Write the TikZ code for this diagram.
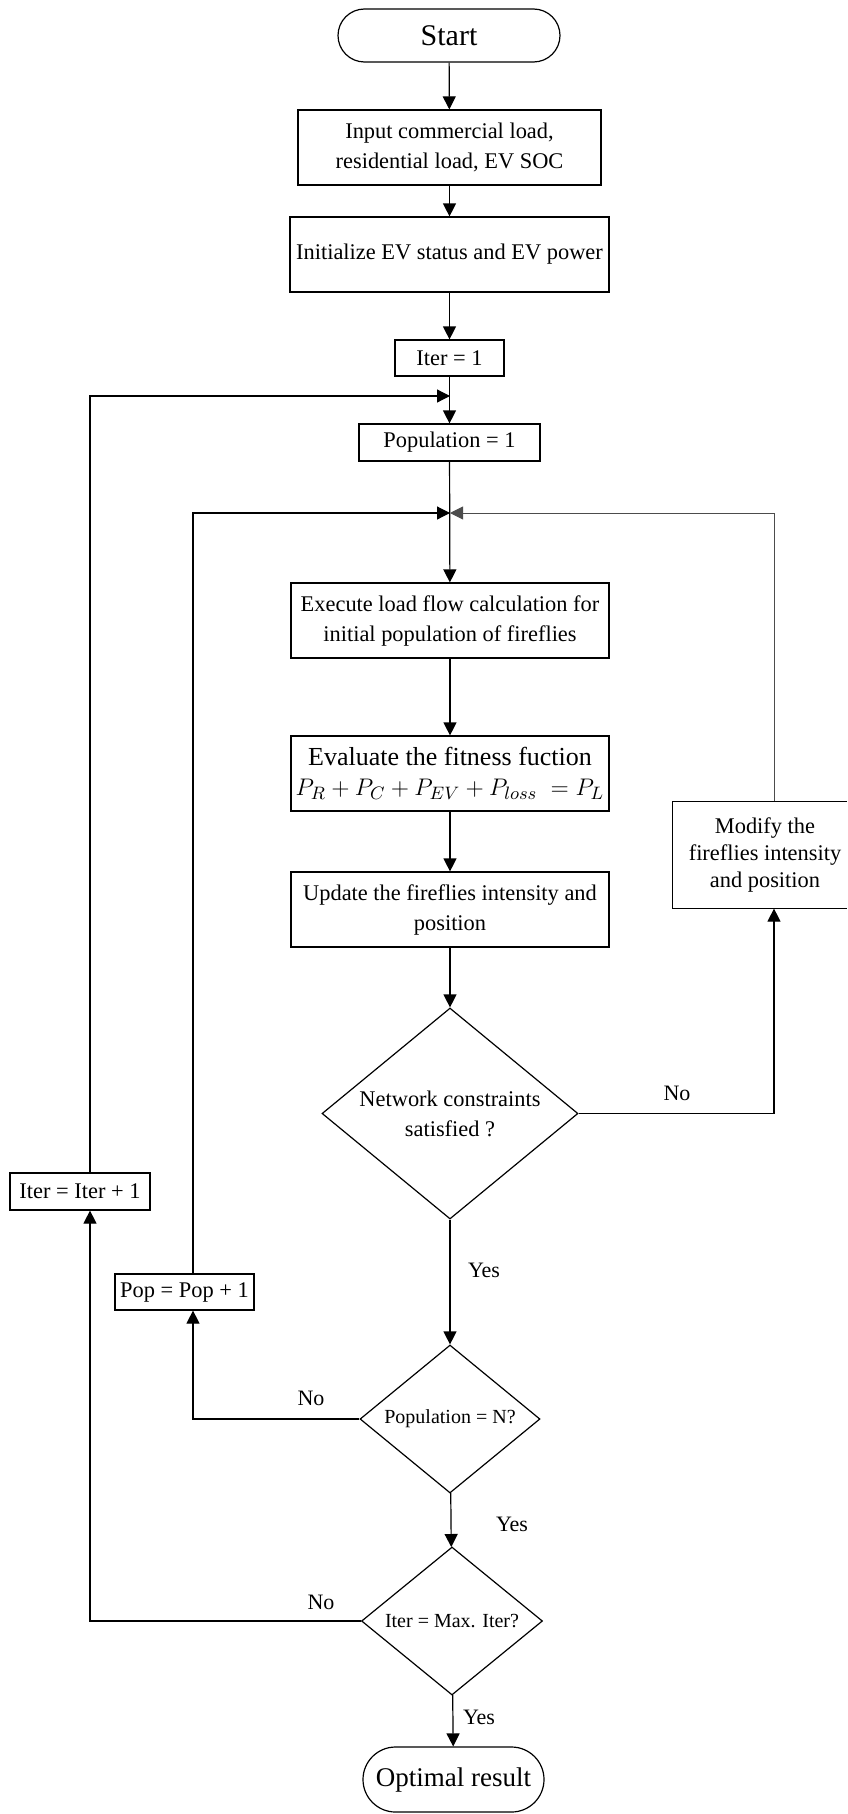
\documentclass[tikz,border=0pt]{standalone}
\usepackage{fontspec}
\setmainfont{Liberation Serif}
\usetikzlibrary{shapes.geometric,shapes.misc,arrows.meta,calc}
\begin{document}
\begin{tikzpicture}[x=0.5pt,y=-0.5pt,
  box/.style={draw, line width=0.6pt, rectangle, align=center, inner sep=0pt, font=\fontsize{11.2}{15}\selectfont},
  term/.style={draw, line width=0.6pt, rounded rectangle, align=center, inner sep=0pt},
  dia/.style={draw, line width=0.6pt, diamond, align=center, inner sep=0pt, font=\fontsize{11.2}{15}\selectfont},
  arr/.style={line width=0.6pt, -{Triangle[length=6.5pt,width=6.5pt]}},
  grayarr/.style={line width=0.45pt, draw=black!70, -{Triangle[length=6.5pt,width=6.5pt,fill=black!70]}},
  lab/.style={inner sep=0pt, font=\fontsize{11}{13}\selectfont}]
\useasboundingbox (0,0) rectangle (847,1814);
\clip (0,0) rectangle (847,1814);
\fill[white] (0,0) rectangle (847,1814);

\node[term, minimum width=111pt, minimum height=26.5pt, font=\fontsize{15}{18}\selectfont] (start) at (449,35.5) {Start};
\node[box, minimum width=151.5pt, minimum height=37.5pt] (input) at (449.5,147.5) {Input commercial load,\\residential load, EV SOC};
\node[box, minimum width=159.5pt, minimum height=37.5pt] (init) at (449.5,254.5) {Initialize EV status and EV power};
\node[box, minimum width=54.5pt, minimum height=18pt] (iter1) at (449.5,358) {Iter = 1};
\node[box, minimum width=90.5pt, minimum height=18.5pt] (pop1) at (449.5,442.5) {Population = 1};
\coordinate (j1) at (450,396);
\coordinate (j2) at (450,513);
\node[box, minimum width=159pt, minimum height=37.5pt] (exec) at (450,620.5) {Execute load flow calculation for\\initial population of fireflies};
\node[box, minimum width=159pt, minimum height=37.5pt, font=\fontsize{13}{15}\selectfont] (eval) at (450,773.5) {Evaluate the fitness fuction\\$P_R+P_C+P_{EV}+P_{loss}\;=P_L$};
\node[box, minimum width=159pt, minimum height=37.5pt] (upd) at (450,909.5) {Update the fireflies intensity and\\position};
\node[box, draw=none, minimum width=92pt, minimum height=53pt, font=\fontsize{11.2}{13.5}\selectfont] (mod) at (765,855) {Modify the\\fireflies intensity\\and position};
\coordinate (re) at (847,855);
\draw[line width=0.6pt] (mod.north -| re) -- (mod.north west) -- (mod.south west) -- (mod.south -| re);
\node[dia, minimum width=128pt, minimum height=105.5pt, aspect=1.213] (d1) at (450,1113.5) {Network constraints\\satisfied ?};
\node[dia, minimum width=90pt, minimum height=74pt, aspect=1.216, font=\fontsize{10}{12}\selectfont] (d2) at (450,1419) {Population = N?};
\node[dia, minimum width=90.5pt, minimum height=74pt, aspect=1.216, font=\fontsize{10}{12}\selectfont] (d3) at (452,1621) {Iter = Max. Iter?};
\node[term, minimum width=90.5pt, minimum height=32.5pt, font=\fontsize{13.5}{16}\selectfont] (opt) at (453.5,1779.5) {Optimal result};
\node[box, minimum width=70pt, minimum height=18.5pt] (itinc) at (80,1191.5) {Iter = Iter + 1};
\node[box, minimum width=69.5pt, minimum height=18pt] (popinc) at (184.5,1292) {Pop = Pop + 1};

\draw[arr] (start) -- (input);
\draw[arr] (input) -- (init);
\draw[arr] (init) -- (iter1);
\draw[arr] (iter1) -- (pop1);
\draw[arr] (pop1) -- (exec);
\draw[arr] (exec) -- (eval);
\draw[arr] (eval) -- (upd);
\draw[arr] (upd) -- (d1);
\draw[arr] (d1) -- (d2);
\draw[arr] (d2) -- (d3);
\draw[arr] (d3) -- (opt);

\coordinate (cr) at (774,1113.5);
\draw[arr] (d1.east) -- (d1.east -| cr) -- (mod.south -| cr);
\draw[grayarr] (mod.north -| cr) -- (j2 -| cr) -- (j2);
\coordinate (cp) at (193,1419);
\draw[arr] (d2.west) -- (d2.west -| cp) -- (popinc.south -| cp);
\draw[arr] (popinc.north -| cp) -- (j2 -| cp) -- (j2);
\coordinate (ci) at (90,1621);
\draw[arr] (d3.west) -- (d3.west -| ci) -- (itinc.south -| ci);
\draw[arr] (itinc.north -| ci) -- (j1 -| ci) -- (j1);

\node[lab] (no1) at (677,1093) {No};
\node[lab] (yes1) at (484,1270) {Yes};
\node[lab] (no2) at (311,1398) {No};
\node[lab] (yes2) at (512,1524) {Yes};
\node[lab] (no3) at (321,1602) {No};
\node[lab] (yes3) at (479,1717) {Yes};
\end{tikzpicture}
\end{document}
